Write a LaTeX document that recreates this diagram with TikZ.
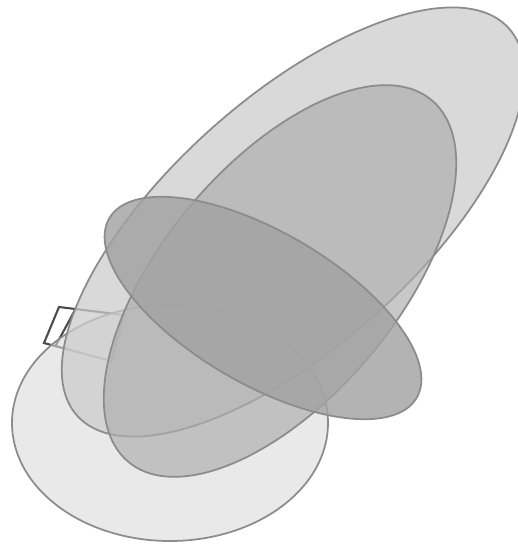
\documentclass[tikz,border=0pt]{standalone}
\usepackage{xcolor}
\usepackage{tikz}
\definecolor{edgegray}{gray}{0.55}
\definecolor{fillA}{gray}{0.80}
\definecolor{fillB}{gray}{0.68}
\definecolor{fillC}{gray}{0.635}
\definecolor{fillD}{gray}{0.86}
\definecolor{boxgray}{gray}{0.30}

\begin{document}
\begin{tikzpicture}[
  x=0.01cm, y=-0.01cm,
  blob/.style={draw=edgegray, line width=0.5pt},
  box/.style={draw=boxgray, line width=0.6pt},
]
\useasboundingbox (0,0) rectangle (517,545);

% small frame behind the ellipses
\draw[box] (59,307) -- (124,315) -- (111,361) -- (44,343) -- cycle;
\draw[box] (75,310) -- (55,347);

% ellipses, lightest first
\draw[blob, fill=fillD, fill opacity=0.6] (170,423) ellipse (158 and 118);
\draw[blob, fill=fillA, fill opacity=0.75, rotate around={41.9:(293,222)}] (293,222) ellipse (290 and 124);
\draw[blob, fill=fillB, fill opacity=0.67, rotate around={50:(280,281)}] (280,281) ellipse (236 and 117);
\draw[blob, fill=fillC, fill opacity=0.82, rotate around={-30.3:(263,308)}] (263,308) ellipse (178 and 76);
\end{tikzpicture}
\end{document}
